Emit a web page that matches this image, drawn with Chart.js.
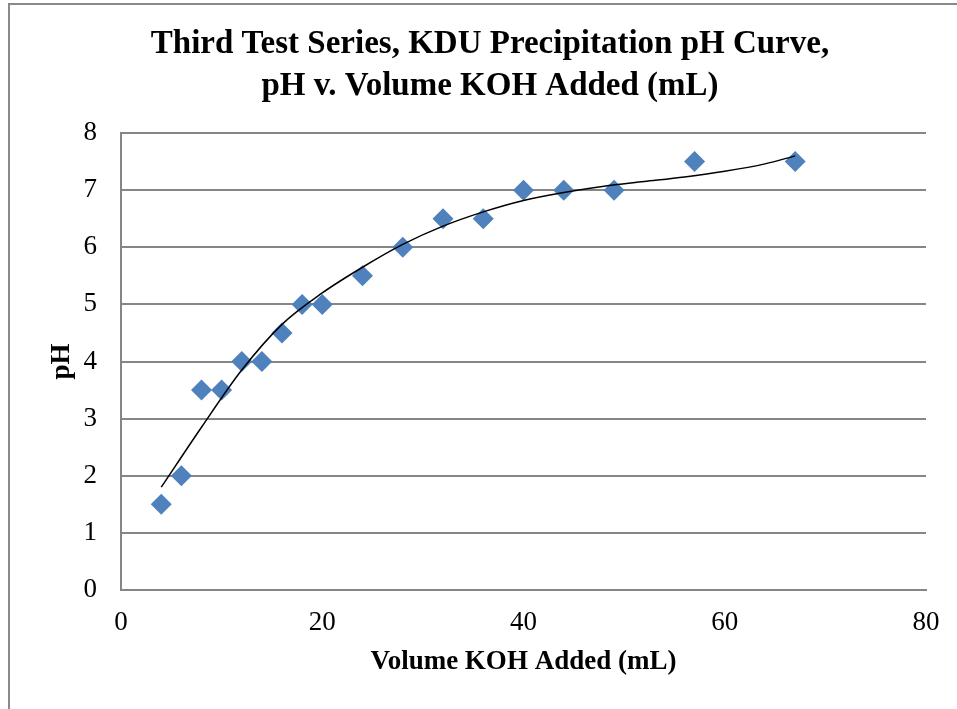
<!DOCTYPE html>
<html>
<head>
<meta charset="utf-8">
<script src="https://cdn.jsdelivr.net/npm/chart.js@4/dist/chart.umd.min.js"></script>
<style>
  html, body { margin: 0; padding: 0; background: #fff; }
  #wrap { width: 957px; height: 709px; }
</style>
</head>
<body>
<div id="wrap"><canvas id="chart" width="957" height="709"></canvas></div>
<script>
// measured points (volume KOH in mL, pH)
var volume = [4, 6, 8, 10, 12, 14, 16, 18, 20, 24, 28, 32, 36, 40, 44, 49, 57, 67];
var ph = [1.5, 2, 3.5, 3.5, 4, 4, 4.5, 5, 5, 5.5, 6, 6.5, 6.5, 7, 7, 7, 7.5, 7.5];

// trendline
var trendX = [4, 8, 12, 16, 20, 24, 28, 32, 36, 40, 44, 48, 52, 56, 60, 64, 67];
var trendY = [1.8, 2.85, 3.85, 4.65, 5.2, 5.65, 6.05, 6.37, 6.62, 6.82, 6.96, 7.07, 7.15, 7.23, 7.33, 7.46, 7.6];

var xTicks = [0, 20, 40, 60, 80];
var yTicks = [0, 1, 2, 3, 4, 5, 6, 7, 8];

var serif = "'Liberation Serif', 'DejaVu Serif', serif";
var gridGray = "#868686";

// outer frame of the chart box (left and top edges visible)
var framePlugin = {
    id: "frame",
    beforeDraw: function (chart) {
        var c = chart.ctx;
        c.save();
        c.fillStyle = "#fff";
        c.fillRect(0, 0, chart.width, chart.height);
        c.strokeStyle = "#898989";
        c.lineWidth = 2;
        c.beginPath();
        c.moveTo(9, chart.height);
        c.lineTo(9, 4);
        c.lineTo(chart.width, 4);
        c.stroke();
        c.restore();
    }
};

var points = volume.map(function (v, i) { return { x: v, y: ph[i] }; });
var trend = trendX.map(function (v, i) { return { x: v, y: trendY[i] }; });

new Chart(document.getElementById("chart").getContext("2d"), {
    type: "scatter",
    data: {
        datasets: [
            {
                label: "Trendline",
                data: trend,
                showLine: true,
                borderColor: "#000",
                borderWidth: 1.5,
                pointRadius: 0,
                cubicInterpolationMode: "monotone",
                fill: false
            },
            {
                label: "pH",
                data: points,
                pointStyle: "rectRot",
                pointRadius: 10.5,
                pointHoverRadius: 10.5,
                backgroundColor: "#4F81BD",
                borderWidth: 0
            }
        ]
    },
    options: {
        responsive: false,
        animation: false,
        // left padding pushes the title centre right, like the original
        layout: { padding: { left: 54, right: 31, top: 0, bottom: 0 } },
        plugins: {
            legend: { display: false },
            tooltip: { enabled: false },
            title: {
                display: true,
                text: ["Third Test Series, KDU Precipitation pH Curve,", "pH v. Volume KOH Added (mL)"],
                color: "#000",
                font: { family: serif, size: 33, weight: "bold", lineHeight: 1.273 },
                padding: { top: 23, bottom: 26 }
            }
        },
        scales: {
            x: {
                type: "linear",
                min: 0,
                max: 80,
                afterBuildTicks: function (s) { s.ticks = xTicks.map(function (v) { return { value: v }; }); },
                afterFit: function (s) { s.height = 119; },
                grid: { display: false, drawTicks: false },
                border: { display: true, color: gridGray, width: 2 },
                ticks: { color: "#000", padding: 17, font: { family: serif, size: 27 } },
                title: {
                    display: true,
                    text: "Volume KOH Added (mL)",
                    color: "#000",
                    font: { family: serif, size: 27, weight: "bold", lineHeight: 1.2 },
                    padding: { top: 31, bottom: 31 }
                }
            },
            y: {
                type: "linear",
                min: 0,
                max: 8,
                afterBuildTicks: function (s) { s.ticks = yTicks.map(function (v) { return { value: v }; }); },
                afterFit: function (s) { s.width = 67; },
                grid: { color: gridGray, lineWidth: 2, drawTicks: false },
                border: { display: true, color: gridGray, width: 2 },
                ticks: { color: "#000", padding: 24, font: { family: serif, size: 27 } },
                title: {
                    display: true,
                    text: "pH",
                    color: "#000",
                    font: { family: serif, size: 27, weight: "bold", lineHeight: 1.2 },
                    padding: { top: -8, bottom: 0 }
                }
            }
        }
    },
    plugins: [framePlugin]
});
</script>
</body>
</html>
